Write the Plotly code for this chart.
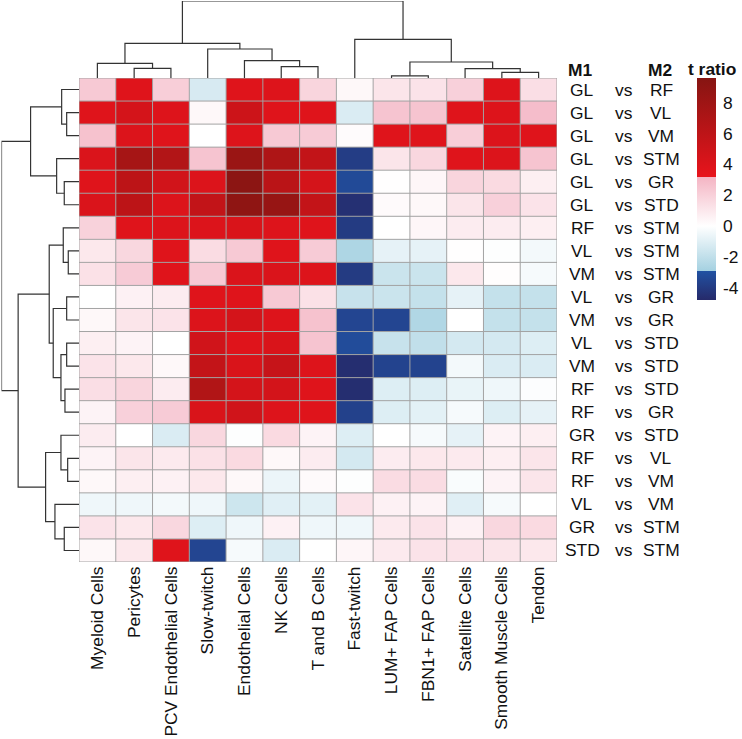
import plotly.graph_objects as go

W, H = 742, 739

col_labels = ["Myeloid Cells", "Pericytes", "PCV Endothelial Cells", "Slow-twitch",
              "Endothelial Cells", "NK Cells", "T and B Cells", "Fast-twitch",
              "LUM+ FAP Cells", "FBN1+ FAP Cells", "Satellite Cells",
              "Smooth Muscle Cells", "Tendon"]
m1 = ["GL", "GL", "GL", "GL", "GL", "GL", "RF", "VL", "VM", "VL", "VM", "VL", "VM",
      "RF", "RF", "GR", "RF", "RF", "VL", "GR", "STD"]
m2 = ["RF", "VL", "VM", "STM", "GR", "STD", "STM", "STM", "STM", "GR", "GR", "STD",
      "STD", "STD", "GR", "STD", "VL", "VM", "VM", "STM", "STM"]

t_ratio = [
    [2.3, 3.8, 2.1, -1.3, 3.8, 3.9, 1.8, 0.3, 1.1, 1.2, 2.0, 3.9, 1.4],
    [3.8, 4.5, 3.9, 0.3, 5.0, 3.8, 3.8, -1.2, 2.5, 2.5, 3.8, 3.9, 2.8],
    [2.6, 4.0, 3.8, 0.0, 3.9, 2.3, 2.2, 0.15, 3.8, 3.8, 2.1, 4.0, 3.8],
    [4.1, 7.5, 6.7, 2.5, 8.3, 7.0, 5.7, -3.9, 1.1, 1.7, 3.8, 4.0, 2.5],
    [3.8, 6.1, 4.7, 4.0, 9.2, 6.2, 4.5, -3.3, 0.05, 0.4, 1.8, 1.6, 0.7],
    [4.1, 6.1, 4.0, 5.7, 9.0, 8.5, 5.6, -4.5, 0.2, 0.3, 1.1, 2.0, 1.2],
    [1.9, 3.8, 4.0, 4.0, 4.2, 3.9, 3.8, -4.0, 0.0, 0.4, 0.8, 0.8, 0.7],
    [1.0, 1.7, 3.8, 1.5, 2.3, 3.8, 2.2, -2.6, -0.8, -0.8, 0.05, -0.05, -0.4],
    [1.3, 2.2, 3.8, 2.3, 4.1, 4.1, 3.9, -4.0, -1.7, -1.7, 1.0, 0.1, -0.3],
    [0.0, 0.6, 0.8, 3.8, 3.8, 2.3, 1.3, -1.8, -1.7, -1.9, -0.8, -1.9, -1.9],
    [0.3, 1.1, 1.2, 4.0, 4.5, 3.9, 2.6, -3.5, -3.5, -2.5, 0.0, -1.9, -1.9],
    [0.7, 0.5, 0.0, 4.8, 3.8, 4.2, 2.5, -3.2, -1.8, -2.0, -1.4, -1.4, -1.1],
    [1.2, 1.0, 0.3, 5.6, 4.2, 5.4, 3.9, -4.6, -3.6, -3.6, -0.4, -1.2, -1.2],
    [1.4, 1.8, 0.8, 6.8, 4.5, 4.6, 3.8, -4.6, -1.1, -1.1, -0.7, -0.5, -0.1],
    [0.5, 2.0, 2.2, 4.2, 4.8, 3.9, 3.8, -3.7, -1.1, -0.9, -0.3, -1.1, -0.8],
    [0.8, 0.0, -1.2, 1.7, -0.05, 1.6, 0.5, -1.1, 0.0, -0.3, -0.8, 0.5, 0.7],
    [0.5, 1.1, 0.9, 1.3, 1.6, 0.3, 0.8, -1.4, 0.8, 1.0, 0.9, 0.7, 1.1],
    [0.3, 0.7, 0.6, 1.0, 0.3, -0.6, 0.2, -0.05, 1.5, 1.5, -0.2, 0.5, 1.1],
    [-0.5, -0.5, -0.4, -0.5, -1.6, -1.0, -0.9, 1.2, 0.6, 0.5, -1.0, -0.3, 0.0],
    [1.2, 1.0, 1.7, -1.1, -0.5, 0.6, -0.5, -0.5, 0.9, 1.2, 0.6, 1.7, 1.6],
    [0.3, 1.0, 3.8, -3.5, -0.3, -1.2, 0.0, 0.4, 0.9, 1.2, 1.2, 1.1, 1.0],
]

# dendrogram merges: (child_a, child_b, height); ids >= n refer to earlier merges
col_merges = [
    (1, 2, 9.7), (0, 13, 14.7), (5, 6, 11.3), (4, 15, 17.3), (3, 16, 29.0),
    (14, 17, 34.7), (8, 9, 2.2), (11, 12, 5.7), (10, 20, 9.3), (19, 21, 16.0),
    (7, 22, 38.7), (18, 23, 77.0),
]
row_merges = [
    (1, 2, 12.3), (0, 21, 17.3), (4, 5, 14.7), (3, 23, 22.3), (22, 24, 48.3),
    (7, 8, 10.7), (6, 26, 15.7), (9, 10, 12.3), (11, 12, 12.3), (13, 14, 14.0),
    (29, 30, 18.0), (28, 31, 25.7), (27, 32, 29.7), (16, 17, 11.3), (15, 34, 18.0),
    (19, 20, 14.7), (18, 36, 24.0), (35, 37, 33.3), (33, 38, 60.7), (25, 39, 77.3),
]

cb_ticks = [-4, -2, 0, 2, 4, 6, 8]
zmin, zmax = -4.8, 9.6


def dendro_lines(n, merges):
    pos = {i: float(i) for i in range(n)}
    hgt = {i: 0.0 for i in range(n)}
    a_pos, a_h = [], []
    for k, (a, b, h) in enumerate(merges):
        a_pos += [pos[a], pos[a], pos[b], pos[b], None]
        a_h += [hgt[a], h, h, hgt[b], None]
        pos[n + k] = (pos[a] + pos[b]) / 2
        hgt[n + k] = h
    return a_pos, a_h


def p(v):
    return (v - zmin) / (zmax - zmin)


eps = 1e-4
colorscale = [
    [0.0, "#262a6a"],
    [p(-2.9), "#2152a3"],
    [p(-2.9) + eps, "#a5d1e1"],
    [p(0), "#ffffff"],
    [p(3.2), "#f4b4c3"],
    [p(3.2) + eps, "#e8141c"],
    [1.0, "#861512"],
]

n_rows, n_cols = len(m1), len(col_labels)
FONT = "Liberation Sans, Arial, sans-serif"
FS = 17.4

x0, x1 = 79 / W, 557 / W
y0, y1 = 1 - 562 / H, 1 - 78 / H

fig = go.Figure()
fig.add_trace(go.Heatmap(
    z=t_ratio, x=list(range(n_cols)), y=list(range(n_rows)),
    colorscale=colorscale, zmin=zmin, zmax=zmax,
    colorbar=dict(
        x=697 / W, xanchor="left", xpad=0, ypad=0,
        y=y1, yanchor="top", len=222, lenmode="pixels",
        thickness=19, thicknessmode="pixels", outlinewidth=0,
        tickvals=cb_ticks, ticktext=[str(t) for t in cb_ticks],
        ticks="outside", ticklen=4, tickcolor="rgba(0,0,0,0)",
        tickfont=dict(family=FONT, size=FS, color="#111"),
    ),
    hoverinfo="skip",
))

cx, ch = dendro_lines(n_cols, col_merges)
fig.add_trace(go.Scatter(x=cx, y=ch, mode="lines", xaxis="x2", yaxis="y2",
                         line=dict(color="#333333", width=1.2), hoverinfo="skip",
                         showlegend=False))
ry, rh = dendro_lines(n_rows, row_merges)
fig.add_trace(go.Scatter(x=rh, y=ry, mode="lines", xaxis="x3", yaxis="y3",
                         line=dict(color="#333333", width=1.2), hoverinfo="skip",
                         showlegend=False))

# cell borders
shapes = []
for k in range(n_cols + 1):
    shapes.append(dict(type="line", xref="x", yref="y", x0=k - 0.5, x1=k - 0.5,
                       y0=-0.5, y1=n_rows - 0.5, line=dict(color="#a3a3a3", width=1)))
for r in range(n_rows + 1):
    shapes.append(dict(type="line", xref="x", yref="y", x0=-0.5, x1=n_cols - 0.5,
                       y0=r - 0.5, y1=r - 0.5, line=dict(color="#a3a3a3", width=1)))

annotations = []
for i in range(n_rows):
    for txt, xc in ((m1[i], 582), ("vs", 624), (m2[i], 661)):
        annotations.append(dict(text=txt, x=xc / W, xref="paper", y=i, yref="y",
                                xanchor="center", yanchor="middle", showarrow=False,
                                font=dict(family=FONT, size=FS, color="#111")))
for txt, xc in (("M1", 580), ("M2", 660)):
    annotations.append(dict(text="<b>%s</b>" % txt, x=xc / W, xref="paper",
                            y=1 - 70 / H, yref="paper", xanchor="center",
                            yanchor="middle", showarrow=False,
                            font=dict(family=FONT, size=FS, color="#111")))
annotations.append(dict(text="<b>t ratio</b>", x=686 / W, xref="paper",
                        y=1 - 69 / H, yref="paper", xanchor="left", yanchor="middle",
                        showarrow=False, font=dict(family=FONT, size=FS, color="#111")))

noax = dict(showgrid=False, zeroline=False, showline=False, showticklabels=False,
            ticks="")
fig.update_layout(
    width=W, height=H, margin=dict(l=0, r=0, t=0, b=0),
    paper_bgcolor="white", plot_bgcolor="white", showlegend=False,
    font=dict(family=FONT, size=FS, color="#111"),
    xaxis=dict(domain=[x0, x1], range=[-0.5, n_cols - 0.5], tickvals=list(range(n_cols)),
               ticktext=col_labels, tickangle=-90, ticks="", showgrid=False,
               zeroline=False, showline=False,
               tickfont=dict(family=FONT, size=FS, color="#111")),
    yaxis=dict(domain=[y0, y1], range=[n_rows - 0.5, -0.5], **noax),
    xaxis2=dict(domain=[x0, x1], range=[-0.5, n_cols - 0.5], anchor="y2", **noax),
    yaxis2=dict(domain=[y1, 1 - 1 / H], range=[0, 77.0], anchor="x2", **noax),
    xaxis3=dict(domain=[1.5 / W, x0], range=[77.3, 0], anchor="y3", **noax),
    yaxis3=dict(domain=[y0, y1], range=[n_rows - 0.5, -0.5], anchor="x3", **noax),
    shapes=shapes, annotations=annotations,
)

fig.write_html("out.html", config={"displayModeBar": False},
               post_script="document.body.style.margin='0';")
